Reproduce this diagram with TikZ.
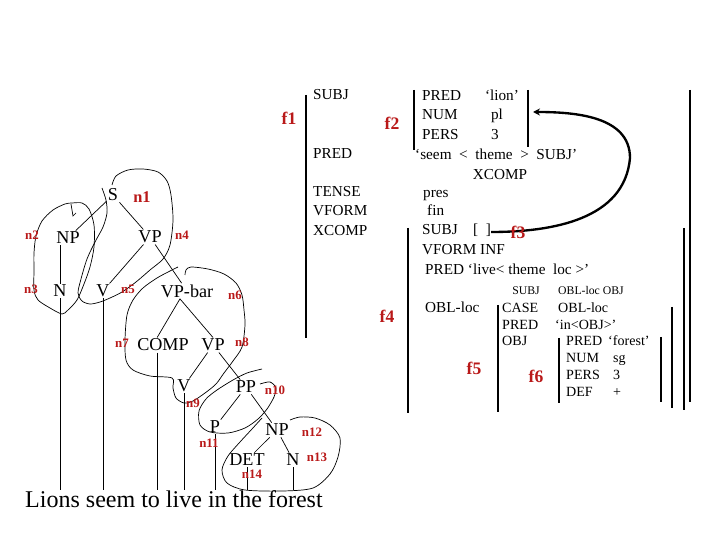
\documentclass[tikz,border=0pt]{standalone}
\usepackage{fontspec}
\setmainfont{Liberation Serif}
\usepackage{xcolor}
\usetikzlibrary{arrows.meta, positioning}
\definecolor{lfgred}{RGB}{185,25,25}

\begin{document}
\begin{tikzpicture}[x=0.03cm, y=-0.03cm,
    cat/.style={font=\fontsize{15.5}{18}\selectfont, inner sep=1pt},
    word/.style={font=\fontsize{20.5}{24}\selectfont, inner sep=0pt},
    nlab/.style={font=\bfseries\fontsize{11}{13}\selectfont, text=lfgred, inner sep=0pt},
    flab/.style={font=\bfseries\fontsize{15}{17}\selectfont, text=lfgred, inner sep=0pt},
    attr/.style={anchor=west, font=\fontsize{13}{15}\selectfont, inner sep=0pt, text height=0.7em, text depth=0.2em},
    inattr/.style={anchor=west, font=\fontsize{12}{14}\selectfont, inner sep=0pt, text height=0.7em, text depth=0.2em},
    hdr/.style={font=\fontsize{10}{12}\selectfont, inner sep=0pt, text height=0.7em, text depth=0.2em},
    branch/.style={line width=0.6pt},
    proj/.style={line width=0.6pt},
    fbar/.style={line width=0.9pt},
    link/.style={line width=2pt, -{Stealth[length=6pt, width=6pt]}}]

    \useasboundingbox (0,0) rectangle (720,540);

    % --- c-structure ---
    \node[cat] (s) at (113,195) {S};
    \node[cat] (np1) at (68,238) {NP};
    \node[cat] (vp1) at (150,237) {VP};
    \node[cat] (n1) at (60,291) {N};
    \node[cat] (v1) at (103,291) {V};
    \node[cat] (vpbar) at (187,291) {VP-bar};
    \node[cat] (comp) at (163,345) {COMP};
    \node[cat] (vp2) at (213,345) {VP};
    \node[cat] (v2) at (184,386) {V};
    \node[cat] (pp) at (246,387) {PP};
    \node[cat] (p) at (215,427) {P};
    \node[cat] (np2) at (277,430) {NP};
    \node[cat] (det) at (247,460) {DET};
    \node[cat] (n2) at (293,460) {N};

    \draw[branch] (s) -- (np1);
    \draw[branch] (s) -- (vp1);
    \draw[branch] (np1.south -| n1) -- (n1);
    \draw[branch] (vp1) -- (v1);
    \draw[branch] (vp1) -- (vpbar);
    \draw[branch] ([xshift=-6pt]vpbar.south) -- ([xshift=-5pt]comp.north);
    \draw[branch] ([xshift=-6pt]vpbar.south) -- (vp2.north);
    \draw[branch] (vp2) -- (v2);
    \draw[branch] (vp2) -- (pp);
    \draw[branch] (pp) -- (p);
    \draw[branch] (pp) -- (np2);
    \draw[branch] (np2) -- (det);
    \draw[branch] (np2) -- (n2);

    % --- Sentence ---
    \node[word, anchor=base west] (sent) at (25,507) {Lions seem to live in the forest};
    \draw[branch] (n1) -- (n1 |- sent.north);
    \draw[branch] (v1) -- (v1 |- sent.north);
    \draw[branch] ([xshift=-5pt]comp.south) -- ([xshift=-5pt]comp.south |- sent.north);
    \draw[branch] (v2) -- (v2 |- sent.north);
    \draw[branch] (p) -- (p |- sent.north);
    \draw[branch] (det) -- (det |- sent.north);
    \draw[branch] (n2) -- (n2 |- sent.north);

    % --- Projection outlines ---
    \draw[proj] plot[smooth] coordinates {(112,185) (116,176) (128,170) (143,169) (158,172) (167,181) (171,195) (173,220) (170,245) (163,259) (150,270) (136,282) (122,292) (110,298) (100,302) (90,304) (82,301) (78,293) (81,279) (87,259) (95,242) (103,227) (107,213) (106,200) (102,188)};
    \draw[proj] plot[smooth cycle] coordinates {(72,203) (82,203) (89,209) (94,225) (94,247) (90,267) (84,284) (77,300) (68,310) (62,314) (50,308) (38,300) (34,290) (34,270) (34,253) (36,236) (42,221) (53,210) (65,204)};
    \draw[proj] (71,204) -- (73,216) -- (76,213);
    \draw[proj] plot[smooth] coordinates {(185,275) (186,270) (191,267) (208,269) (224,274) (236,283) (242,295) (244,310) (245,325) (242,347) (233,361) (224,373) (216,384) (205,393) (193,401) (184,403) (176,398) (173,388) (172,378) (150,376) (133,370) (126,360) (125,340) (127,315) (133,300) (143,288) (157,278) (170,271) (178,267)};
    \draw[proj] plot[smooth] coordinates {(262,369) (247,373) (233,380) (217,390) (206,399) (199,411) (200,425) (210,432) (228,433) (245,428) (258,419) (267,409) (274,397) (276,388) (270,382) (260,384)};
    \draw[proj] plot[smooth] coordinates {(262,418) (252,429) (240,442) (228,456) (222,470) (227,483) (245,490) (283,491) (313,488) (330,474) (338,457) (340,438) (330,425) (315,418) (300,417) (290,420)};

    % --- Node labels ---
    \node[nlab, font=\bfseries\fontsize{14}{16}\selectfont] (lab_n1) at (142,197) {n1};
    \node[nlab] (lab_n2) at (32,235) {n2};
    \node[nlab] (lab_n3) at (31,289) {n3};
    \node[nlab] (lab_n4) at (182,235) {n4};
    \node[nlab] (lab_n5) at (128,289) {n5};
    \node[nlab] (lab_n6) at (235,295) {n6};
    \node[nlab] (lab_n7) at (122,343) {n7};
    \node[nlab] (lab_n8) at (242,342) {n8};
    \node[nlab] (lab_n9) at (193,403) {n9};
    \node[nlab] (lab_n10) at (275,390) {n10};
    \node[nlab] (lab_n11) at (209,443) {n11};
    \node[nlab] (lab_n12) at (312,432) {n12};
    \node[nlab] (lab_n13) at (317,457) {n13};
    \node[nlab] (lab_n14) at (252,474) {n14};

    % --- f-structure brackets ---
    \draw[fbar] (306,95) -- (306,338);
    \draw[fbar] (690,90) -- (690,402);
    \draw[fbar] (414,90) -- (414,150);
    \draw[fbar] (528,90) -- (528,147);
    \draw[fbar] (408,228) -- (408,413);
    \draw[fbar] (684,228) -- (684,410);
    \draw[fbar] (498,305) -- (498,412);
    \draw[fbar] (672,307) -- (672,408);
    \draw[fbar] (559,338) -- (559,403);
    \draw[fbar] (661,337) -- (661,402);

    % --- f1 attributes ---
    \node[attr] (f1_subj) at (313,97) {SUBJ};
    \node[attr] (f1_pred) at (313,156) {PRED};
    \node[attr] (f1_tense) at (313,194) {TENSE};
    \node[attr] (f1_vform) at (313,213) {VFORM};
    \node[attr] (f1_xcomp) at (313,233) {XCOMP};

    % --- f2 (SUBJ) ---
    \node[attr] (f2_pred) at (422,98) {PRED};
    \node[attr, anchor=center] (f2_lion) at (502,98) {‘lion’};
    \node[attr] (f2_num) at (422,117) {NUM};
    \node[attr, anchor=center] (f2_pl) at (497,117) {pl};
    \node[attr] (f2_pers) at (422,137) {PERS};
    \node[attr, anchor=center] (f2_3) at (495,137) {3};

    % --- f1 values ---
    \node[attr] (f1_seem) at (415,157) {\spaceskip=0.5em ‘seem < theme > SUBJ’};
    \node[attr, anchor=center] (f1_xc) at (500,177) {XCOMP};
    \node[attr] (f1_pres) at (423,195) {pres};
    \node[attr] (f1_fin) at (427,213) {fin};

    % --- f4 (XCOMP) ---
    \node[attr] (f4_subj) at (422,232) {SUBJ};
    \node[attr, anchor=center] (brk) at (482,232) {[\ \ ]};
    \node[attr] (f4_vform) at (422,252) {VFORM\ INF};
    \node[attr] (f4_pred) at (425,272) {PRED ‘live< theme\ \ loc >’};
    \node[hdr] (f4_h1) at (526,292) {SUBJ};
    \node[hdr, anchor=west] (f4_h2) at (558,292) {OBL-loc OBJ};
    \node[attr] (f4_obl) at (425,310) {OBL-loc};

    % --- f5 (OBL-loc) ---
    \node[inattr] (f5_case) at (502,310) {CASE};
    \node[inattr] (f5_casev) at (558,310) {OBL-loc};
    \node[inattr] (f5_pred) at (502,327) {PRED};
    \node[inattr] (f5_predv) at (555,327) {‘in<OBJ>’};
    \node[inattr] (f5_obj) at (502,343) {OBJ};

    % --- f6 (OBJ) ---
    \node[inattr] (f6_pred) at (566,343) {PRED};
    \node[inattr] (f6_predv) at (608,343) {‘forest’};
    \node[inattr] (f6_num) at (566,360) {NUM};
    \node[inattr] (f6_numv) at (613,360) {sg};
    \node[inattr] (f6_pers) at (566,377) {PERS};
    \node[inattr] (f6_persv) at (613,377) {3};
    \node[inattr] (f6_def) at (566,394) {DEF};
    \node[inattr] (f6_defv) at (613,394) {+};

    % --- Structure sharing ---
    \coordinate (lionarr) at (533,112);
    \coordinate (bend) at (630,158);
    \draw[link] (brk.east) to[out=0, in=-95] (bend) to[out=90, in=0] (lionarr);

    % --- f labels ---
    \node[flab] (lab_f1) at (289,118) {f1};
    \node[flab] (lab_f2) at (392,123) {f2};
    \node[flab] (lab_f3) at (518,232) {f3};
    \node[flab] (lab_f4) at (387,316) {f4};
    \node[flab] (lab_f5) at (474,368) {f5};
    \node[flab] (lab_f6) at (536,376) {f6};

\end{tikzpicture}
\end{document}
